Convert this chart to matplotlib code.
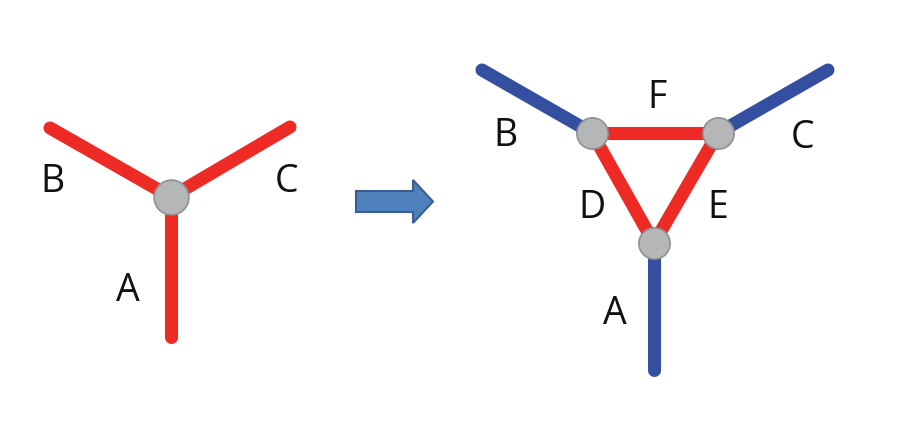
import matplotlib
matplotlib.use("Agg")
import matplotlib.pyplot as plt
from matplotlib.patches import Polygon

# --- Configuration ---
RED = '#ee2a24'
BLUE = '#344ea0'
NODE_FACE = '#b4b6b7'
NODE_EDGE = '#8e9091'
ARROW_FACE = '#4f81bd'
ARROW_EDGE = '#3a5f8e'

# left: single junction (pixel coords, y downwards)
left_node = (171, 197)
left_ends = {'A': (171, 337), 'B': (50, 128), 'C': (290, 127)}
left_labels = {'A': (128, 291), 'B': (52, 182), 'C': (287, 182)}

# right: triangle of three junctions
tri_nodes = {'BF': (592, 133), 'CF': (718, 133), 'A': (654, 243)}
tri_edges = [('BF', 'CF'), ('BF', 'A'), ('CF', 'A')]
right_ends = {'A': (654, 370), 'B': (482, 70), 'C': (828, 70)}
right_labels = {'A': (615, 314), 'B': (505, 136), 'C': (803, 138),
                'D': (592, 208), 'E': (718, 208), 'F': (657, 98)}

# arrow outline points
arrow_x = [356, 413, 413, 433, 413, 413, 356]
arrow_y = [191, 191, 180, 201.5, 223, 212, 212]

LW = 9.4
FONT = dict(family=['Open Sans', 'DejaVu Sans'], fontsize=27, color='#111111',
            ha='center', va='center')

fig = plt.figure(figsize=(9.11, 4.38), dpi=100)
ax = fig.add_axes([0, 0, 1, 1])
ax.set_xlim(0, 911)
ax.set_ylim(438, 0)
ax.axis('off')

# left junction
for key, (x, y) in left_ends.items():
    ax.plot([left_node[0], x], [left_node[1], y], color=RED, lw=LW,
            solid_capstyle='round', zorder=1)
ax.plot(*left_node, 'o', ms=25, mfc=NODE_FACE, mec=NODE_EDGE, mew=1.2, zorder=3)
for key, (x, y) in left_labels.items():
    ax.text(x, y, key, **FONT)

# arrow
ax.add_patch(Polygon(list(zip(arrow_x, arrow_y)), closed=True,
                     fc=ARROW_FACE, ec=ARROW_EDGE, lw=1.5, zorder=2))

# right: outer blue legs
leg_from = {'A': 'A', 'B': 'BF', 'C': 'CF'}
for key, (x, y) in right_ends.items():
    nx, ny = tri_nodes[leg_from[key]]
    ax.plot([nx, x], [ny, y], color=BLUE, lw=LW, solid_capstyle='round', zorder=1)

# right: inner red triangle
for a, b in tri_edges:
    (x0, y0), (x1, y1) = tri_nodes[a], tri_nodes[b]
    ax.plot([x0, x1], [y0, y1], color=RED, lw=LW, solid_capstyle='butt', zorder=1)

for x, y in tri_nodes.values():
    ax.plot(x, y, 'o', ms=22.5, mfc=NODE_FACE, mec=NODE_EDGE, mew=1.2, zorder=3)

for key, (x, y) in right_labels.items():
    ax.text(x, y, key, **FONT)

fig.savefig('out.png', dpi=100, facecolor='white')
